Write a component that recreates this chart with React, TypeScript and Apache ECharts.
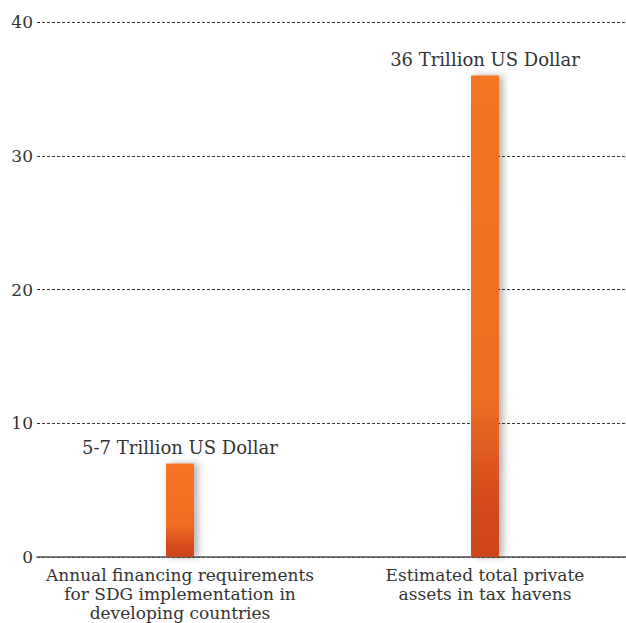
import React, { useEffect, useRef } from "react";
import * as echarts from "echarts";

const categories = [
  "Annual financing requirements\nfor SDG implementation in\ndeveloping countries",
  "Estimated total private\nassets in tax havens",
];
const values = [7, 36];
const valueLabels = ["5-7 Trillion US Dollar", "36 Trillion US Dollar"];
const yTicks = [0, 10, 20, 30, 40];

const FONT = "DejaVu Serif";

export default function App() {
  const ref = useRef<HTMLDivElement>(null);
  useEffect(() => {
    document.body.style.margin = "0";
    const chart = echarts.init(ref.current!, null, { renderer: "svg" });
    const makeGrad = () =>
      new echarts.graphic.LinearGradient(0, 0, 0, 1, [
        { offset: 0, color: "#F47422" },
        { offset: 0.66, color: "#EF6D22" },
        { offset: 0.9, color: "#D4481E" },
        { offset: 1, color: "#CF441E" },
      ]);
    chart.setOption({
      animation: false,
      backgroundColor: "#ffffff",
      grid: [
        { left: 37, right: 0, top: 22, bottom: 66, containLabel: false, outerBoundsMode: "none" },
        { left: 27.5, width: 610, top: 22, bottom: 66, containLabel: false, outerBoundsMode: "none" },
      ],
      xAxis: [
        {
          type: "category",
          gridIndex: 0,
          data: categories,
          axisLine: { show: true, lineStyle: { color: "#555", width: 1.5 } },
          axisTick: { show: false },
          axisLabel: { show: false },
        },
        {
          type: "category",
          gridIndex: 1,
          data: categories,
          axisLine: { show: false },
          axisTick: { show: false },
          axisLabel: {
            margin: 8,
            fontFamily: FONT,
            fontSize: 17,
            lineHeight: 19,
            color: "#333",
            interval: 0,
          },
        },
      ],
      yAxis: [
        {
          type: "value",
          gridIndex: 0,
          min: yTicks[0],
          max: yTicks[yTicks.length - 1],
          interval: 10,
          axisLine: { show: false },
          axisTick: { show: false },
          axisLabel: {
            margin: 4,
            fontFamily: FONT,
            fontSize: 17,
            color: "#333",
          },
          splitLine: {
            show: true,
            lineStyle: { color: "#333", width: 1, type: [3, 2] },
          },
        },
        {
          type: "value",
          gridIndex: 1,
          min: yTicks[0],
          max: yTicks[yTicks.length - 1],
          interval: 10,
          show: false,
          splitLine: { show: false },
        },
      ],
      series: [
        {
          type: "bar",
          xAxisIndex: 1,
          yAxisIndex: 1,
          barWidth: 28,
          data: values.map((v) => ({
            value: v,
            itemStyle: {
              color: makeGrad(),
              shadowColor: "rgba(0,0,0,0.3)",
              shadowBlur: 7,
              shadowOffsetX: 4,
              shadowOffsetY: 0,
            },
          })),
          label: {
            show: true,
            position: "top",
            distance: 7,
            fontFamily: FONT,
            fontSize: 18,
            color: "#333",
            formatter: (p: any) => valueLabels[p.dataIndex],
          },
        },
      ],
    });
    return () => chart.dispose();
  }, []);
  return <div ref={ref} style={{ width: 626, height: 623 }} />;
}
